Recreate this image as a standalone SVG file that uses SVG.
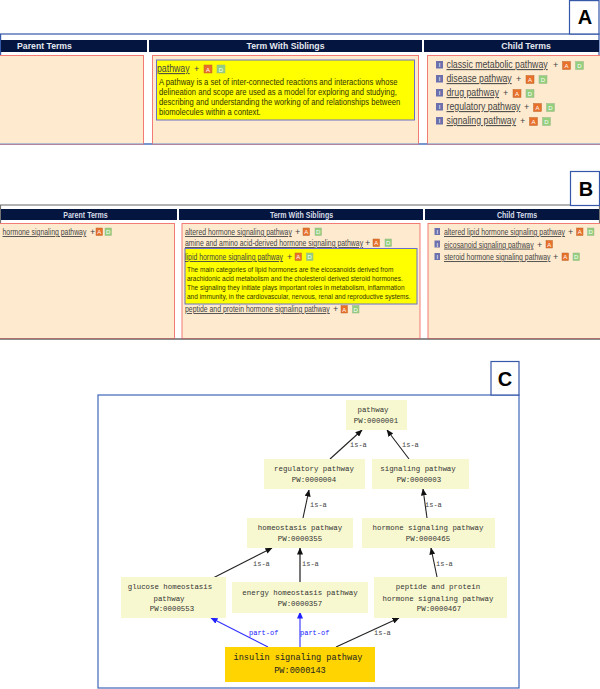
<svg xmlns="http://www.w3.org/2000/svg" width="600" height="689" viewBox="0 0 600 689">
<style>
.frame{fill:#fff;stroke:#3558a8;stroke-width:1.2}
.frameg{fill:#fff;stroke:#666;stroke-width:1}
.bar{fill:#04163f}
.cell{fill:#fdeacf;stroke:#f47a74;stroke-width:1}
.yel{fill:#ffff00;stroke:#6a70c8;stroke-width:1}
text{font-family:"Liberation Sans",Arial,sans-serif}
.h{fill:#e4e8f0;font-weight:bold;font-size:8.7px;text-anchor:middle}
.h2{fill:#d8dce8;font-weight:bold;font-size:8.6px;text-anchor:middle}
.l{fill:#444;font-size:10.500px;text-decoration:underline}
.s{fill:#444;font-size:8.900px;text-decoration:underline}
.p{fill:#444;font-size:9px}
.d{fill:#333300;font-size:8.900px}
.d2{fill:#333300;font-size:7.800px}
.ic{font-size:6px;text-anchor:middle;fill:#fff}
.a{fill:#e8702a;stroke:#b9682f;stroke-width:.5}
.o{fill:#93cf7c;stroke:#9cb58c;stroke-width:.5}
.i{fill:#6c70ad}
.tag{fill:#fff;stroke:#3558a8;stroke-width:1.2}
.tagt{fill:#000;font-weight:bold;font-size:20px;text-anchor:middle}
.c{fill:none;stroke:#3f66b8;stroke-width:1.2}
.n{fill:#f8f8d0}
.g{fill:#ffd400}
.m{font-family:"Liberation Mono",monospace;font-size:7.4px;fill:#333;text-anchor:middle}
.mb{font-family:"Liberation Mono",monospace;font-size:8.6px;fill:#222;text-anchor:middle}
.e{fill:none;stroke:#222;stroke-width:1.1;marker-end:url(#ak)}
.eb{fill:none;stroke:#3030ff;stroke-width:1.1;marker-end:url(#ab)}
.lb{font-family:"Liberation Mono",monospace;font-size:7px;fill:#444}
.lbb{font-family:"Liberation Mono",monospace;font-size:7px;fill:#2020ff}
</style>
<defs>
<marker id="ak" markerWidth="7" markerHeight="6" refX="6.5" refY="3" orient="auto" markerUnits="userSpaceOnUse"><path d="M0 0L7 3L0 6z" fill="#111"/></marker>
<marker id="ab" markerWidth="7" markerHeight="6" refX="6.5" refY="3" orient="auto" markerUnits="userSpaceOnUse"><path d="M0 0L7 3L0 6z" fill="#2020ff"/></marker>
</defs>

<g id="panel-a">
<rect class="frame" x="0.6" y="34" width="598.4" height="110"/>
<rect class="bar" x="1" y="40" width="146" height="12"/>
<rect class="bar" x="149" y="40" width="273" height="12"/>
<rect class="bar" x="424" y="40" width="175" height="12"/>
<text class="h" x="44.500" y="49">Parent Terms</text>
<text class="h" x="285.500" y="49">Term With Siblings</text>
<text class="h" x="526" y="49">Child Terms</text>
<rect class="cell" x="-1" y="55.5" width="144.5" height="89"/>
<rect class="cell" x="152.500" y="55.5" width="266" height="89"/>
<rect class="cell" x="427.500" y="55.5" width="173" height="89"/>
<line x1="0" y1="144" x2="600" y2="144" stroke="#6f8fd0" stroke-width="1.2"/>
<rect class="yel" x="156.500" y="60" width="258" height="60"/>
<text class="l" transform="translate(157 72) scale(.835 1)">pathway</text>
<text class="p" x="194" y="72">+</text>
<rect class="a" x="204" y="65" width="8" height="8"/><text class="ic" x="208" y="71.500">A</text>
<rect class="o" x="217" y="65" width="8" height="8"/><text class="ic" x="221" y="71.500">D</text>
<text class="d" transform="translate(159 85) scale(.86 1)">A pathway is a set of inter-connected reactions and interactions whose</text>
<text class="d" transform="translate(159 95) scale(.86 1)">delineation and scope are used as a model for exploring and studying,</text>
<text class="d" transform="translate(159 105) scale(.86 1)">describing and understanding the working of and relationships between</text>
<text class="d" transform="translate(159 115) scale(.86 1)">biomolecules within a context.</text>

<rect class="i" x="436" y="61" width="7" height="7.500"/><text class="ic" x="439.500" y="67">I</text>
<text class="l" transform="translate(446.500 68) scale(.835 1)">classic metabolic pathway</text>
<text class="p" x="553" y="68">+</text>
<rect class="a" x="562.500" y="61.500" width="8" height="8"/><text class="ic" x="566.500" y="68">A</text>
<rect class="o" x="575.500" y="61.500" width="8" height="8"/><text class="ic" x="579.500" y="68">D</text>

<rect class="i" x="436" y="75" width="7" height="7.500"/><text class="ic" x="439.500" y="81">I</text>
<text class="l" transform="translate(446.500 82) scale(.835 1)">disease pathway</text>
<text class="p" x="516" y="82">+</text>
<rect class="a" x="526" y="75.500" width="8" height="8"/><text class="ic" x="530" y="82">A</text>
<rect class="o" x="539" y="75.500" width="8" height="8"/><text class="ic" x="543" y="82">D</text>

<rect class="i" x="436" y="89" width="7" height="7.500"/><text class="ic" x="439.500" y="95">I</text>
<text class="l" transform="translate(446.500 96) scale(.835 1)">drug pathway</text>
<text class="p" x="503" y="96">+</text>
<rect class="a" x="513" y="89.500" width="8" height="8"/><text class="ic" x="517" y="96">A</text>
<rect class="o" x="526" y="89.500" width="8" height="8"/><text class="ic" x="530" y="96">D</text>

<rect class="i" x="436" y="103" width="7" height="7.500"/><text class="ic" x="439.500" y="109">I</text>
<text class="l" transform="translate(446.500 110) scale(.835 1)">regulatory pathway</text>
<text class="p" x="524" y="110">+</text>
<rect class="a" x="533.500" y="103.500" width="8" height="8"/><text class="ic" x="537.500" y="110">A</text>
<rect class="o" x="546.500" y="103.500" width="8" height="8"/><text class="ic" x="550.500" y="110">D</text>

<rect class="i" x="436" y="117" width="7" height="7.500"/><text class="ic" x="439.500" y="123">I</text>
<text class="l" transform="translate(446.500 124) scale(.835 1)">signaling pathway</text>
<text class="p" x="520" y="124">+</text>
<rect class="a" x="529.500" y="117.500" width="8" height="8"/><text class="ic" x="533.500" y="124">A</text>
<rect class="o" x="542.500" y="117.500" width="8" height="8"/><text class="ic" x="546.500" y="124">D</text>

<rect class="tag" x="569.500" y="0.600" width="29.500" height="33.400"/>
<text class="tagt" x="585" y="24">A</text>
</g>

<g id="panel-b">
<rect class="frameg" x="0.600" y="205" width="598.800" height="134"/>
<rect class="bar" x="1" y="209" width="176" height="11"/>
<rect class="bar" x="179" y="209" width="244" height="11"/>
<rect class="bar" x="425" y="209" width="174" height="11"/>
<text class="h2" transform="translate(85.500 218) scale(.82 1)">Parent Terms</text>
<text class="h2" transform="translate(301.500 218) scale(.82 1)">Term With Siblings</text>
<text class="h2" transform="translate(517 218) scale(.82 1)">Child Terms</text>
<rect class="cell" x="-1" y="223.500" width="175.500" height="115"/>
<rect class="cell" x="182" y="223.500" width="238" height="115"/>
<rect class="cell" x="428" y="223.500" width="173" height="115"/>
<line x1="0" y1="339" x2="600" y2="339" stroke="#666"/>

<text class="s" transform="translate(2.500 235) scale(.775 1)">hormone signaling pathway</text>
<text class="p" x="90" y="235">+</text>
<rect class="a" x="96" y="228" width="6.500" height="7.500"/><text class="ic" x="99.250" y="234">A</text>
<rect class="o" x="105" y="228" width="6.500" height="7.500"/><text class="ic" x="108.250" y="234">D</text>

<text class="s" transform="translate(185 235) scale(.775 1)">altered hormone signaling pathway</text>
<text class="p" x="295" y="235">+</text>
<rect class="a" x="303" y="228" width="6.500" height="7.500"/><text class="ic" x="306.250" y="234">A</text>
<rect class="o" x="315" y="228" width="6.500" height="7.500"/><text class="ic" x="318.250" y="234">D</text>

<text class="s" transform="translate(185 246) scale(.775 1)">amine and amino acid-derived hormone signaling pathway</text>
<text class="p" x="365" y="246">+</text>
<rect class="a" x="373" y="239" width="6.500" height="7.500"/><text class="ic" x="376.250" y="245">A</text>
<rect class="o" x="385" y="239" width="6.500" height="7.500"/><text class="ic" x="388.250" y="245">D</text>

<rect class="yel" x="185" y="248.500" width="232" height="55.500"/>
<text class="s" transform="translate(185 260) scale(.775 1)">lipid hormone signaling pathway</text>
<text class="p" x="287" y="260">+</text>
<rect class="a" x="295" y="253" width="6.500" height="7.500"/><text class="ic" x="298.250" y="259">A</text>
<rect class="o" x="306.500" y="253" width="6.500" height="7.500"/><text class="ic" x="309.750" y="259">D</text>
<text class="d2" transform="translate(187 272) scale(.835 1)">The main categories of lipid hormones are the eicosanoids derived from</text>
<text class="d2" transform="translate(187 281) scale(.835 1)">arachidonic acid metabolism and the cholesterol derived steroid hormones.</text>
<text class="d2" transform="translate(187 290) scale(.835 1)">The signaling they initiate plays important roles in metabolism, inflammation</text>
<text class="d2" transform="translate(187 299) scale(.835 1)">and immunity, in the cardiovascular, nervous, renal and reproductive systems.</text>

<text class="s" transform="translate(185 312) scale(.775 1)">peptide and protein hormone signaling pathway</text>
<text class="p" x="333" y="312">+</text>
<rect class="a" x="341" y="305.500" width="6.500" height="7.500"/><text class="ic" x="344.250" y="311.500">A</text>
<rect class="o" x="352.500" y="305.500" width="6.500" height="7.500"/><text class="ic" x="355.750" y="311.500">D</text>

<rect class="i" x="434.500" y="228" width="5.500" height="7"/><text class="ic" x="437.250" y="234">I</text>
<text class="s" transform="translate(444 235) scale(.775 1)">altered lipid hormone signaling pathway</text>
<text class="p" x="568" y="235">+</text>
<rect class="a" x="576.500" y="228" width="6.500" height="7.500"/><text class="ic" x="579.750" y="234">A</text>
<rect class="o" x="587.500" y="228" width="6.500" height="7.500"/><text class="ic" x="590.750" y="234">D</text>

<rect class="i" x="434.500" y="240.500" width="5.500" height="7"/><text class="ic" x="437.250" y="246.500">I</text>
<text class="s" transform="translate(444 247.500) scale(.775 1)">eicosanoid signaling pathway</text>
<text class="p" x="537" y="247.500">+</text>
<rect class="a" x="546" y="240.500" width="6.500" height="7.500"/><text class="ic" x="549.250" y="246.500">A</text>

<rect class="i" x="434.500" y="253" width="5.500" height="7"/><text class="ic" x="437.250" y="259">I</text>
<text class="s" transform="translate(444 260) scale(.775 1)">steroid hormone signaling pathway</text>
<text class="p" x="553" y="260">+</text>
<rect class="a" x="562" y="253" width="6.500" height="7.500"/><text class="ic" x="565.250" y="259">A</text>
<rect class="o" x="573" y="253" width="6.500" height="7.500"/><text class="ic" x="576.250" y="259">D</text>

<rect class="tag" x="570.500" y="171.500" width="29" height="34"/>
<text class="tagt" x="586" y="196">B</text>
</g>

<g id="panel-c">
<rect class="c" x="98" y="395" width="421" height="293"/>
<rect class="tag" x="491" y="361.500" width="28" height="33.500"/>
<text class="tagt" x="505" y="386">C</text>
</g>

<g id="connectors">
<path class="e" d="M330 459L362 430"/>
<path class="e" d="M409 459L387 430"/>
<path class="e" d="M303 518L309 490"/>
<path class="e" d="M427 518L423 489"/>
<path class="e" d="M213 578L272 548"/>
<path class="e" d="M300 583L300 548" style="stroke-width:1.6;stroke:#555"/>
<path class="e" d="M437 577L431 548"/>
<path class="eb" d="M268 647L211 618"/>
<path class="eb" d="M300 647L300 612"/>
<path class="e" d="M336 647L399 618"/>
<text class="lb" x="350" y="447">is-a</text>
<text class="lb" x="402" y="447">is-a</text>
<text class="lb" x="310" y="507">is-a</text>
<text class="lb" x="425" y="507">is-a</text>
<text class="lb" x="253" y="566">is-a</text>
<text class="lb" x="302" y="566">is-a</text>
<text class="lb" x="436" y="566">is-a</text>
<text class="lbb" x="249" y="635">part-of</text>
<text class="lbb" x="300" y="635">part-of</text>
<text class="lb" x="374" y="635">is-a</text>
</g>

<g id="node-pathway"><rect class="n" x="346" y="400" width="61" height="30"/><text class="m" x="373" y="412">pathway</text><text class="m" x="376" y="423">PW:0000001</text></g>
<g id="node-regulatory"><rect class="n" x="264" y="459" width="101" height="30"/><text class="m" x="314" y="471">regulatory pathway</text><text class="m" x="314" y="482">PW:0000004</text></g>
<g id="node-signaling"><rect class="n" x="372" y="459" width="97" height="30"/><text class="m" x="418" y="471">signaling pathway</text><text class="m" x="419" y="482">PW:0000003</text></g>
<g id="node-homeostasis"><rect class="n" x="247" y="518" width="106" height="30"/><text class="m" x="300" y="530">homeostasis pathway</text><text class="m" x="300" y="541">PW:0000355</text></g>
<g id="node-hormone"><rect class="n" x="362" y="518" width="133" height="30"/><text class="m" x="428" y="530">hormone signaling pathway</text><text class="m" x="428" y="541">PW:0000465</text></g>
<g id="node-glucose"><rect class="n" x="121" y="577" width="105" height="41"/><text class="m" x="170" y="589">glucose homeostasis</text><text class="m" x="169" y="601">pathway</text><text class="m" x="172" y="611">PW:0000553</text></g>
<g id="node-energy"><rect class="n" x="232" y="582" width="136" height="31"/><text class="m" x="300" y="595">energy homeostasis pathway</text><text class="m" x="300" y="606">PW:0000357</text></g>
<g id="node-peptide"><rect class="n" x="374" y="577" width="133" height="41"/><text class="m" x="438" y="589">peptide and protein</text><text class="m" x="438" y="601">hormone signaling pathway</text><text class="m" x="439" y="611">PW:0000467</text></g>
<g id="node-insulin"><rect class="g" x="225" y="647" width="150" height="35"/><text class="mb" x="298" y="660">insulin signaling pathway</text><text class="mb" x="300" y="673">PW:0000143</text></g>
</svg>
